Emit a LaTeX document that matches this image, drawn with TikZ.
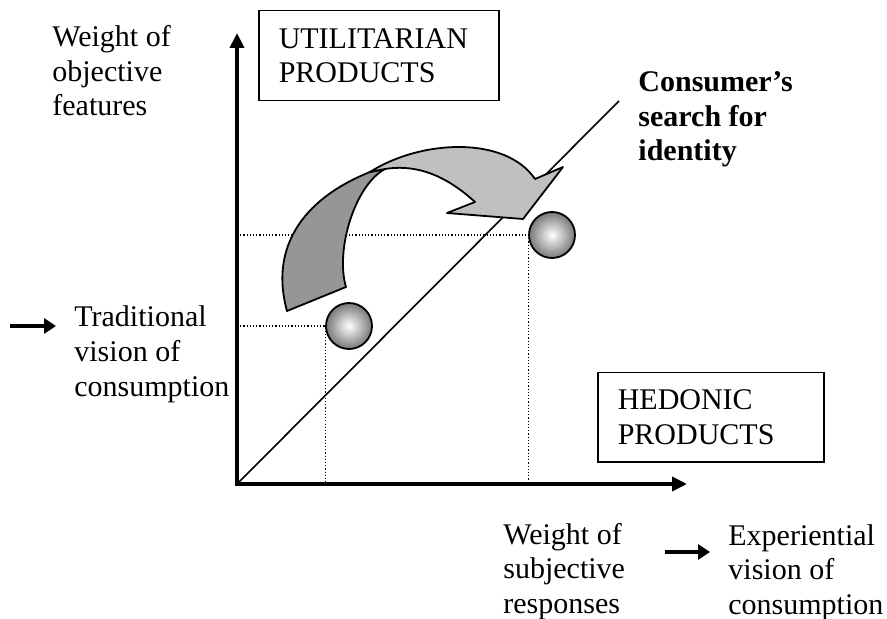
\documentclass[tikz,border=0pt]{standalone}
\usepackage{fontspec}
\setmainfont{Liberation Serif}
\usepackage{tikz}
\usetikzlibrary{calc}
\usetikzlibrary{positioning}
\usetikzlibrary{arrows.meta}
\definecolor{ribbondark}{RGB}{150,150,150}
\definecolor{ribbonlight}{RGB}{192,192,192}
\definecolor{ballrim}{RGB}{120,120,120}
\newcommand{\diagfont}{\fontsize{15}{17.25}\selectfont}

\begin{document}
\begin{tikzpicture}[x=0.5pt,y=-0.5pt,>={Triangle[length=7.5pt,width=7pt]},
  lbl/.style={align=left,inner sep=0pt,anchor=base west,font=\diagfont},
  prodbox/.style={draw,line width=0.75pt,anchor=north west,align=left,inner xsep=10pt,inner ysep=0pt,font=\diagfont},
  ball/.style={circle,draw,line width=0.9pt,minimum size=23pt,inner sep=0pt,inner color=white,outer color=ballrim},
  axis/.style={line width=2.2pt},
  guide/.style={densely dotted,line width=0.6pt},
  ribbon/.style={draw=black,line width=0.9pt,line join=round},
  pointer/.style={line width=2.4pt,-{Triangle[length=6pt,width=7.5pt]}}]

\useasboundingbox (0,0) rectangle (887,619);

\coordinate (origin) at (237,484);
\coordinate (ytip) at (237,33);
\coordinate (xtip) at (687,484);
\coordinate (diagend) at (619,101);

\node[ball] (tradball) at (349,326) {};
\node[ball] (hedball) at (552,235) {};

\draw[axis,<->] (ytip) -- (origin) -- (xtip);

\draw[guide] (tradball.west -| origin) -- (tradball.west) -- (tradball.west |- origin);
\draw[guide] (hedball.west -| origin) -- (hedball.west) -- (hedball.west |- origin);

\draw[line width=0.8pt] (origin) -- (diagend);

\path[fill=ribbondark,ribbon] (287,311) .. controls (270,250) and (300,200) .. (370,172) -- (385,169) .. controls (355,185) and (335,250) .. (346,287) -- cycle;
\path[fill=ribbonlight,ribbon] (370,172) .. controls (420,140) and (505,135) .. (535,179) -- (563,167) -- (523,219) -- (447,213) -- (475,202) .. controls (440,170) and (410,165) .. (385,169) -- cycle;

\node[prodbox,text width=100pt,minimum height=45pt] (utilbox) at (258,10) {UTILITARIAN\\PRODUCTS};
\node[prodbox,text width=93pt,minimum height=44.5pt] (hedbox) at (597,372) {HEDONIC\\PRODUCTS};

\node[lbl] (objlbl) at (52,116) {Weight of\\objective\\features};
\node[lbl] (tradlbl) at (74,396) {Traditional\\vision of\\consumption};
\node[lbl] (subjlbl) at (503,613) {Weight of\\subjective\\responses};
\node[lbl] (explbl) at (728,614) {Experiential\\vision of\\consumption};
\node[lbl,font=\diagfont\bfseries] (searchlbl) at (638,161) {Consumer's\\search for\\identity};

\coordinate (tradtail) at (10,326);
\coordinate (tradhead) at (56,326);
\coordinate (exptail) at (665,552);
\coordinate (exphead) at (710,552);
\draw[pointer] (tradtail) -- (tradhead);
\draw[pointer] (exptail) -- (exphead);
\end{tikzpicture}
\end{document}
